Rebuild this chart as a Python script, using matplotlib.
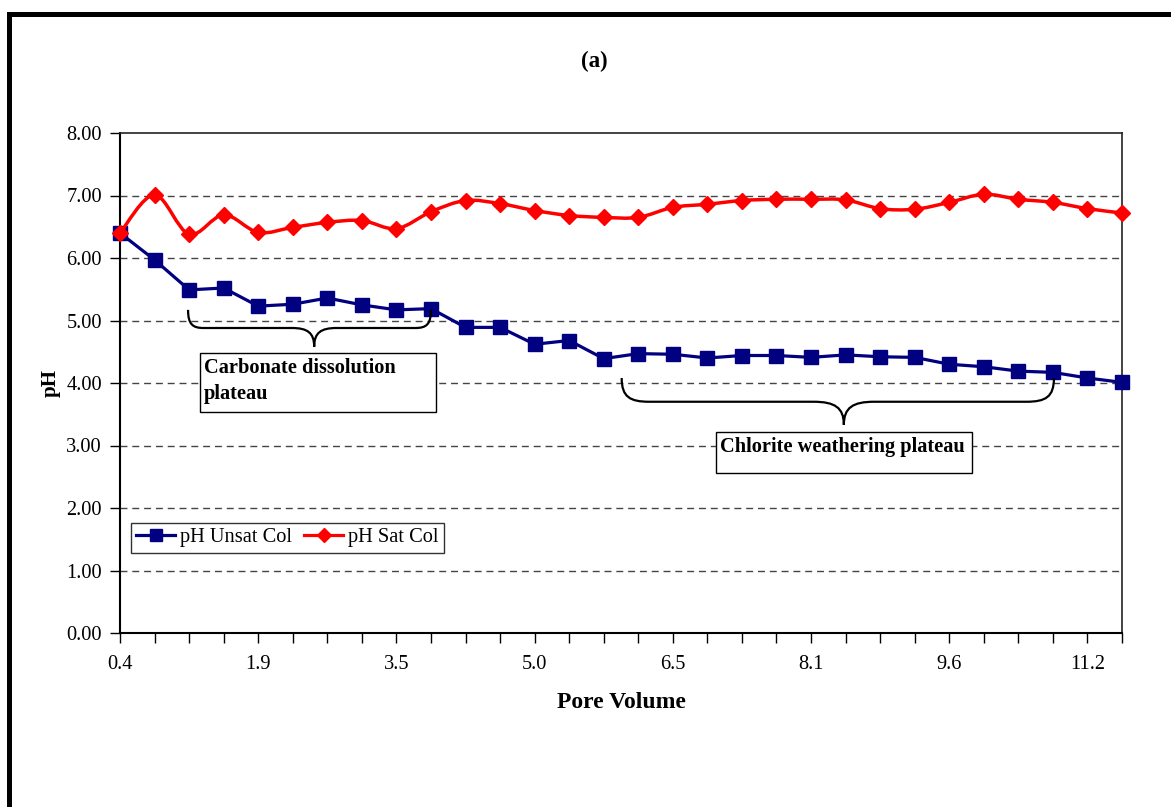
import numpy as np
import matplotlib
matplotlib.use("Agg")
import matplotlib.pyplot as plt
from matplotlib.path import Path
from matplotlib.patches import PathPatch, Rectangle
from matplotlib.lines import Line2D

plt.rcParams['font.family'] = ['Liberation Serif', 'DejaVu Serif']

# pore volumes for each sample (category axis)
pore_volume = [0.4, 0.8, 1.2, 1.5, 1.9, 2.3, 2.7, 3.1, 3.5, 3.8,
               4.2, 4.6, 5.0, 5.4, 5.8, 6.2, 6.5, 6.9, 7.3, 7.7,
               8.1, 8.5, 8.8, 9.2, 9.6, 10.0, 10.4, 10.8, 11.2, 11.5]

ph_unsat = [6.40, 5.97, 5.49, 5.52, 5.23, 5.26, 5.36, 5.25, 5.17, 5.19,
            4.89, 4.89, 4.62, 4.68, 4.39, 4.47, 4.46, 4.40, 4.44, 4.44,
            4.41, 4.45, 4.42, 4.41, 4.30, 4.26, 4.19, 4.17, 4.08, 4.01]

ph_sat = [6.40, 7.01, 6.38, 6.69, 6.41, 6.49, 6.57, 6.60, 6.47, 6.74,
          6.92, 6.87, 6.76, 6.68, 6.65, 6.65, 6.81, 6.86, 6.92, 6.94,
          6.94, 6.93, 6.79, 6.78, 6.89, 7.02, 6.94, 6.89, 6.79, 6.72]

label_every = 4

W, H = 1171, 807
fig = plt.figure(figsize=(W / 100, H / 100), dpi=100)
fig.patch.set_facecolor('white')

# thick frame around the chart (left and top edges)
fig.patches.append(Rectangle((7 / W, 0), 5 / W, 1 - 12 / H, transform=fig.transFigure,
                             facecolor='black', edgecolor='none'))
fig.patches.append(Rectangle((7 / W, 1 - 17 / H), 1, 5 / H, transform=fig.transFigure,
                             facecolor='black', edgecolor='none'))

ax = fig.add_axes([120 / W, 1 - 633 / H, 1002 / W, 500 / H])

x = np.arange(len(pore_volume))


def smooth_path(xs, ys):
    # Catmull-Rom style bezier through every point
    pts = np.column_stack([xs, ys]).astype(float)
    n = len(pts)
    verts = [pts[0]]
    codes = [Path.MOVETO]
    for i in range(n - 1):
        p0 = pts[i - 1] if i > 0 else pts[i]
        p1 = pts[i]
        p2 = pts[i + 1]
        p3 = pts[i + 2] if i + 2 < n else pts[i + 1]
        c1 = p1 + (p2 - p0) / 6.0
        c2 = p2 - (p3 - p1) / 6.0
        verts += [c1, c2, p2]
        codes += [Path.CURVE4] * 3
    return Path(verts, codes)


ax.plot(x, ph_unsat, color='#000080', lw=2.3, marker='s', markersize=9.5,
        markerfacecolor='#000080', markeredgecolor='#000080', zorder=3, clip_on=False)
ax.add_patch(PathPatch(smooth_path(x, ph_sat), facecolor='none', edgecolor='#FF0000',
                       lw=2.5, zorder=4))
ax.plot(x, ph_sat, linestyle='none', marker='D', markersize=8.5,
        markerfacecolor='#FF0000', markeredgecolor='#FF0000', zorder=5, clip_on=False)

ax.set_xlim(0, len(pore_volume) - 1)
ax.set_ylim(0, 8)

ax.set_xticks(x)
ax.set_xticklabels([f"{v:.1f}" if i % label_every == 0 else "" for i, v in enumerate(pore_volume)])
ax.set_yticks(np.arange(0, 9, 1))
ax.set_yticklabels([f"{v:.2f}" for v in np.arange(0, 9, 1)])
ax.tick_params(axis='both', direction='out', length=7, width=1, labelsize=14.7, color='black')
ax.tick_params(axis='y', pad=6)
ax.tick_params(axis='x', pad=9)

for yv in range(1, 8):
    ax.axhline(yv, color='#444444', lw=1, linestyle=(0, (5, 3.5)), zorder=1)

for side in ['left', 'bottom']:
    ax.spines[side].set_linewidth(1.5)
    ax.spines[side].set_color('black')
for side in ['top', 'right']:
    ax.spines[side].set_linewidth(1.2)
    ax.spines[side].set_color('#222222')

ax.set_xlabel('Pore Volume', fontsize=17, fontweight='bold', labelpad=13)
ax.set_ylabel('pH', fontsize=15, fontweight='bold', labelpad=4)
fig.text(594 / W, 1 - 61 / H, '(a)', fontsize=16.5, fontweight='bold', ha='center', va='center')


def brace(x_left, x_right, x_mid, y_top, y_bar, y_tip, r_end, r_mid):
    verts = [
        (x_left, y_top),
        (x_left, y_top + (y_bar - y_top) * 0.8), (x_left + r_end * 0.3, y_bar), (x_left + r_end, y_bar),
        (x_mid - r_mid, y_bar),
        (x_mid - r_mid * 0.3, y_bar), (x_mid, y_bar + (y_tip - y_bar) * 0.25), (x_mid, y_tip),
        (x_mid, y_bar + (y_tip - y_bar) * 0.25), (x_mid + r_mid * 0.3, y_bar), (x_mid + r_mid, y_bar),
        (x_right - r_end, y_bar),
        (x_right - r_end * 0.3, y_bar), (x_right, y_top + (y_bar - y_top) * 0.8), (x_right, y_top),
    ]
    codes = [Path.MOVETO,
             Path.CURVE4, Path.CURVE4, Path.CURVE4,
             Path.LINETO,
             Path.CURVE4, Path.CURVE4, Path.CURVE4,
             Path.CURVE4, Path.CURVE4, Path.CURVE4,
             Path.LINETO,
             Path.CURVE4, Path.CURVE4, Path.CURVE4]
    ax.add_patch(PathPatch(Path(verts, codes), facecolor='none', edgecolor='black',
                           lw=1.6, zorder=6))


brace(1.97, 9.0, 5.62, 5.17, 4.88, 4.58, 0.45, 0.65)
brace(14.52, 27.03, 20.95, 4.08, 3.70, 3.33, 0.8, 0.88)

# label boxes
ax.add_patch(Rectangle((2.32, 3.54), 9.15 - 2.32, 4.48 - 3.54, facecolor='white',
                       edgecolor='black', lw=1, zorder=7))
ax.text(2.43, 4.03, 'Carbonate dissolution\nplateau', fontsize=14.7, fontweight='bold',
        ha='left', va='center', linespacing=1.35, zorder=8)

ax.add_patch(Rectangle((17.24, 2.56), 24.67 - 17.24, 3.22 - 2.56, facecolor='white',
                       edgecolor='black', lw=1, zorder=7))
ax.text(17.37, 2.97, 'Chlorite weathering plateau', fontsize=14.7, fontweight='bold',
        ha='left', va='center', zorder=8)

handles = [
    Line2D([], [], color='#000080', lw=2.3, marker='s', markersize=8),
    Line2D([], [], color='#FF0000', lw=2.3, marker='D', markersize=7.5),
]
leg = ax.legend(handles, ['pH Unsat Col', 'pH Sat Col'], ncol=2, loc='upper left',
                bbox_to_anchor=(0.011, 0.22), fontsize=14.7, frameon=True, fancybox=False,
                handlelength=1.9, handletextpad=0.25, columnspacing=0.6, borderpad=0.25,
                borderaxespad=0)
leg.get_frame().set_edgecolor('black')
leg.get_frame().set_linewidth(1)
leg.set_zorder(9)

fig.savefig('out.png', dpi=100)
